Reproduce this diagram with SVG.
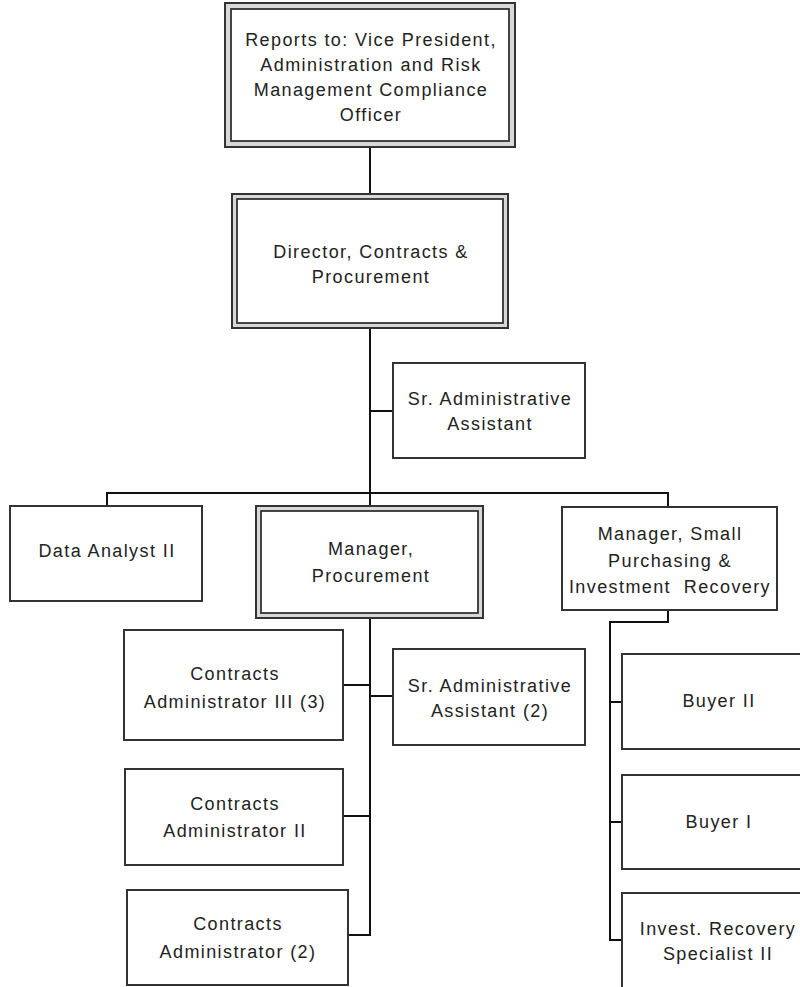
<svg xmlns="http://www.w3.org/2000/svg" width="800" height="987" viewBox="0 0 800 987">
<style>
.bx{fill:#fff;stroke:#333;stroke-width:2}
.ob{fill:#d8d8d8;stroke:#333;stroke-width:2}
.ib{fill:#fff;stroke:#333;stroke-width:1.8}
.ln{fill:none;stroke:#111;stroke-width:2}
text{font-family:"Liberation Sans",Arial,sans-serif;font-size:18px;letter-spacing:1.4px;fill:#222;text-anchor:middle}
</style>
<rect width="800" height="987" fill="#fff"/>
<g id="connectors">
<path class="ln" d="M370,148V194M370,328V493M370,411H393M107,506V493H668V507M370,493V506"/>
<path class="ln" d="M370,618V935H348M343,685H370M370,696H393M343,816H370"/>
<path class="ln" d="M668,610V622H610V940H622M610,702H622M610,822H622"/>
</g>
<g id="n-reports">
<rect class="ob" x="225" y="3" width="290" height="144"/>
<rect class="ib" x="231" y="9" width="278" height="132"/>
<text x="371" y="46">Reports to: Vice President,</text>
<text x="371" y="71">Administration and Risk</text>
<text x="371" y="96">Management Compliance</text>
<text x="371" y="121">Officer</text>
</g>
<g id="n-director">
<rect class="ob" x="232" y="194" width="276" height="134"/>
<rect class="ib" x="237" y="199" width="266" height="124"/>
<text x="371" y="258">Director, Contracts &amp;</text>
<text x="371" y="283">Procurement</text>
</g>
<g id="n-sradmin">
<rect class="bx" x="393" y="363" width="192" height="95"/>
<text x="490" y="405">Sr. Administrative</text>
<text x="490" y="430">Assistant</text>
</g>
<g id="n-data">
<rect class="bx" x="10" y="506" width="192" height="95"/>
<text x="107" y="557">Data Analyst II</text>
</g>
<g id="n-mgrproc">
<rect class="ob" x="256" y="506" width="227" height="112"/>
<rect class="ib" x="261" y="511" width="217" height="102"/>
<text x="371" y="555">Manager,</text>
<text x="371" y="582">Procurement</text>
</g>
<g id="n-mgrsmall">
<rect class="bx" x="562" y="507" width="215" height="103"/>
<text x="670" y="540">Manager, Small</text>
<text x="670" y="567">Purchasing &amp;</text>
<text x="670" y="593" xml:space="preserve">Investment  Recovery</text>
</g>
<g id="n-ca3">
<rect class="bx" x="124" y="630" width="219" height="110"/>
<text x="235" y="680">Contracts</text>
<text x="235" y="708">Administrator III (3)</text>
</g>
<g id="n-sradmin2">
<rect class="bx" x="393" y="649" width="192" height="96"/>
<text x="490" y="692">Sr. Administrative</text>
<text x="490" y="717">Assistant (2)</text>
</g>
<g id="n-ca2">
<rect class="bx" x="125" y="769" width="218" height="96"/>
<text x="235" y="810">Contracts</text>
<text x="235" y="837">Administrator II</text>
</g>
<g id="n-ca">
<rect class="bx" x="127" y="890" width="221" height="95"/>
<text x="238" y="930">Contracts</text>
<text x="238" y="958">Administrator (2)</text>
</g>
<g id="n-buyer2">
<rect class="bx" x="622" y="654" width="192" height="95"/>
<text x="719" y="707">Buyer II</text>
</g>
<g id="n-buyer1">
<rect class="bx" x="622" y="775" width="192" height="94"/>
<text x="719" y="828">Buyer I</text>
</g>
<g id="n-invest">
<rect class="bx" x="622" y="893" width="192" height="100"/>
<text x="718" y="935">Invest. Recovery</text>
<text x="718" y="960">Specialist II</text>
</g>
</svg>
